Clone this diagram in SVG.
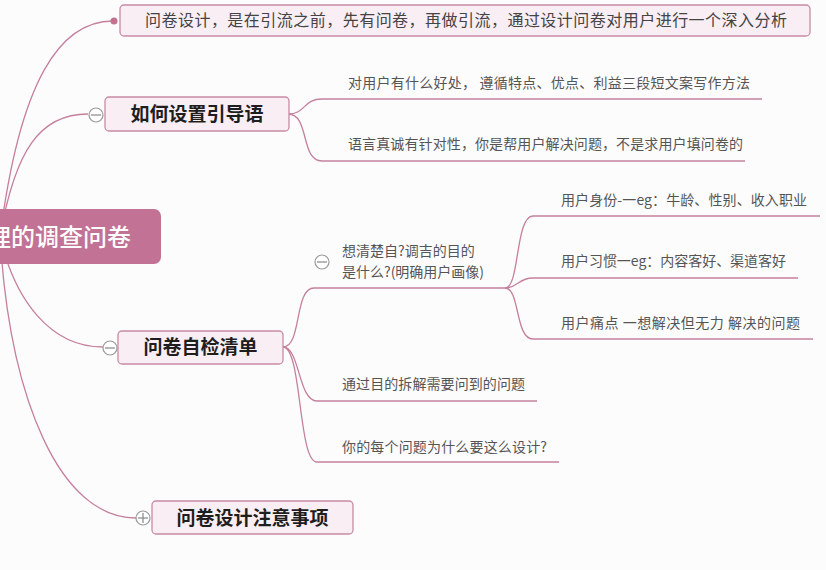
<svg xmlns="http://www.w3.org/2000/svg" width="826" height="570" viewBox="0 0 826 570">
<style>
.bg{fill:#fdfcfd}
.con{fill:none;stroke:#c4809d;stroke-width:1.3}
.box{fill:#f9eef3;stroke:#c98ba5;stroke-width:1.3}
.root{fill:#c27294}
.title{font-family:"Noto Sans CJK SC","Liberation Sans",sans-serif;font-weight:bold;font-size:19px;fill:#1e1e1e;text-anchor:middle}
.lbl{font-family:"Noto Sans CJK SC","Liberation Sans",sans-serif;font-size:14px;fill:#555}
.top{font-family:"Noto Sans CJK SC","Liberation Sans",sans-serif;font-size:16px;fill:#444}
.rtxt{font-family:"Noto Sans CJK SC","Liberation Sans",sans-serif;font-size:24px;fill:#fff;font-weight:500}
.tog{fill:#fff;stroke:#999;stroke-width:1.2}
.tline{stroke:#888;stroke-width:1.2}
</style>
<rect class="bg" x="0" y="0" width="826" height="570"/>
<g id="connectors">
<path class="con" d="M0 237 C20 80 60 21 113 21"/>
<path class="con" d="M0 237 C15 150 40 114 88 114"/>
<path class="con" d="M0 237 C15 300 50 347 103 347"/>
<path class="con" d="M0 237 C10 400 60 518 136 518"/>
<path class="con" d="M288 114 C306 114 303 99 322 99 L762 99"/>
<path class="con" d="M288 114 C310 114 300 161 322 161 L745 161"/>
<path class="con" d="M283 347 C302 347 294 288 314 288 L505 288"/>
<path class="con" d="M283 347 C300 347 298 401 317 401 L537 401"/>
<path class="con" d="M283 347 C302 347 298 462 317 462 L559 462"/>
<path class="con" d="M505 288 C520 288 515 216 533 216 L820 216"/>
<path class="con" d="M505 288 C518 288 518 278 533 278 L798 278"/>
<path class="con" d="M505 288 C520 288 515 339 533 339 L813 339"/>
</g>
<g id="root">
<rect class="root" x="-12" y="209" width="173" height="55" rx="7"/>
<text class="rtxt" x="-13" y="246">理的调查问卷</text>
</g>
<g id="node-intro">
<circle cx="114" cy="21" r="3.5" fill="#c4708f"/>
<rect class="box" x="120" y="5" width="690" height="31" rx="4"/>
<text class="top" x="145" y="26" textLength="642">问卷设计，是在引流之前，先有问卷，再做引流，通过设计问卷对用户进行一个深入分析</text>
</g>
<g id="node-guide">
<rect class="box" x="105" y="97" width="184" height="34" rx="4"/>
<text class="title" x="197" y="121">如何设置引导语</text>
<circle class="tog" cx="96" cy="115" r="7"/>
<line class="tline" x1="91" y1="115" x2="101" y2="115"/>
</g>
<g id="node-guide-1">
<text class="lbl" x="348" y="88" textLength="402">对用户有什么好处， 遵循特点、优点、利益三段短文案写作方法</text>
</g>
<g id="node-guide-2">
<text class="lbl" x="348" y="149" textLength="395">语言真诚有针对性，你是帮用户解决问题，不是求用户填问卷的</text>
</g>
<g id="node-check">
<rect class="box" x="118" y="331" width="165" height="33" rx="4"/>
<text class="title" x="200.5" y="354">问卷自检清单</text>
<circle class="tog" cx="110" cy="348" r="7"/>
<line class="tline" x1="105" y1="348" x2="115" y2="348"/>
</g>
<g id="node-check-1">
<text class="lbl" x="342" y="256">想清楚自?调吉的目的</text>
<text class="lbl" x="342" y="277">是什么?(明确用户画像)</text>
<circle class="tog" cx="322" cy="262" r="7"/>
<line class="tline" x1="317" y1="262" x2="327" y2="262"/>
</g>
<g id="node-check-1a">
<text class="lbl" x="561" y="205" textLength="246">用户身份-一eg：牛龄、性别、收入职业</text>
</g>
<g id="node-check-1b">
<text class="lbl" x="561" y="266" textLength="225">用户习惯一eg：内容客好、渠道客好</text>
</g>
<g id="node-check-1c">
<text class="lbl" x="561" y="328" textLength="239">用户痛点 一想解决但无力 解决的问题</text>
</g>
<g id="node-check-2">
<text class="lbl" x="342" y="389" textLength="183">通过目的拆解需要问到的问题</text>
</g>
<g id="node-check-3">
<text class="lbl" x="342" y="452" textLength="205">你的每个问题为什么要这么设计?</text>
</g>
<g id="node-notes">
<rect class="box" x="152" y="501" width="201" height="33" rx="4"/>
<text class="title" x="252.5" y="525">问卷设计注意事项</text>
<circle class="tog" cx="143" cy="518" r="7"/>
<line class="tline" x1="138" y1="518" x2="148" y2="518"/>
<line class="tline" x1="143" y1="513" x2="143" y2="523"/>
</g>
</svg>
